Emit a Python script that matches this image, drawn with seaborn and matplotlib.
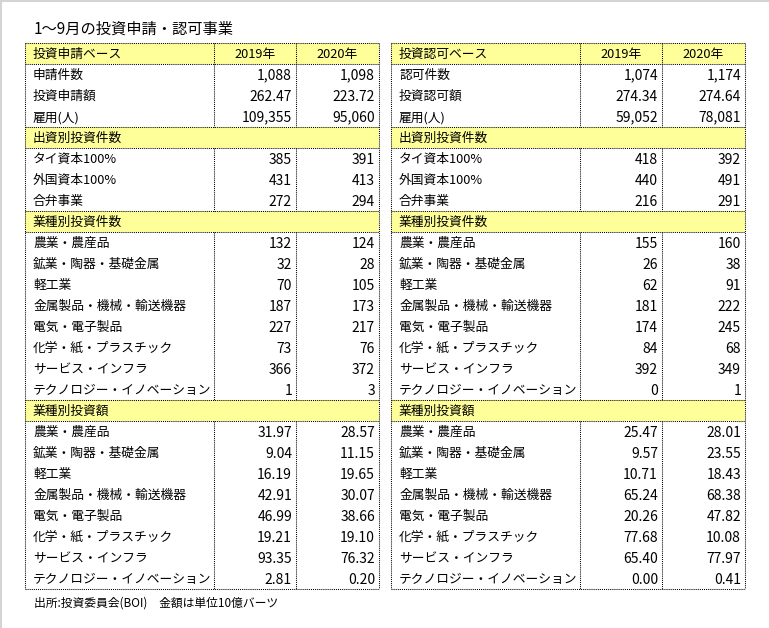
import numpy as np
import seaborn as sns
import matplotlib
matplotlib.use("Agg")
import matplotlib.pyplot as plt
from matplotlib.colors import ListedColormap

sns.set_theme(style="white")
plt.rcParams['font.family'] = ['Noto Sans CJK JP', 'DejaVu Sans']

title = '1～9月の投資申請・認可事業'
source = '出所:投資委員会(BOI)　金額は単位10億バーツ'
years = ['2019年', '2020年']

app_head = '投資申請ベース'
apr_head = '投資認可ベース'
sections = ['出資別投資件数', '業種別投資件数', '業種別投資額']

app_base_items = ['申請件数', '投資申請額', '雇用(人)']
apr_base_items = ['認可件数', '投資認可額', '雇用(人)']
base_formats = ['{:,.0f}', '{:.2f}', '{:,.0f}']
capital_items = ['タイ資本100%', '外国資本100%', '合弁事業']
sector_items = ['農業・農産品', '鉱業・陶器・基礎金属', '軽工業', '金属製品・機械・輸送機器',
                '電気・電子製品', '化学・紙・プラスチック', 'サービス・インフラ',
                'テクノロジー・イノベーション']

# 投資申請
app_base_2019 = [1088, 262.47, 109355]
app_base_2020 = [1098, 223.72, 95060]
app_capital_2019 = [385, 431, 272]
app_capital_2020 = [391, 413, 294]
app_count_2019 = [132, 32, 70, 187, 227, 73, 366, 1]
app_count_2020 = [124, 28, 105, 173, 217, 76, 372, 3]
app_value_2019 = [31.97, 9.04, 16.19, 42.91, 46.99, 19.21, 93.35, 2.81]
app_value_2020 = [28.57, 11.15, 19.65, 30.07, 38.66, 19.10, 76.32, 0.20]

# 投資認可
apr_base_2019 = [1074, 274.34, 59052]
apr_base_2020 = [1174, 274.64, 78081]
apr_capital_2019 = [418, 440, 216]
apr_capital_2020 = [392, 491, 291]
apr_count_2019 = [155, 26, 62, 181, 174, 84, 392, 0]
apr_count_2020 = [160, 38, 91, 222, 245, 68, 349, 1]
apr_value_2019 = [25.47, 9.57, 10.71, 65.24, 20.26, 77.68, 65.40, 0.00]
apr_value_2020 = [28.01, 23.55, 18.43, 68.38, 47.82, 10.08, 77.97, 0.41]


def build_rows(head, base_items, base19, base20, cap19, cap20, cnt19, cnt20, val19, val20):
    rows = [('head', head, years[0], years[1])]
    for lab, f, a, b in zip(base_items, base_formats, base19, base20):
        rows.append(('row', lab, f.format(a), f.format(b)))
    rows.append(('sec', sections[0], '', ''))
    for lab, a, b in zip(capital_items, cap19, cap20):
        rows.append(('row', lab, f'{a:,}', f'{b:,}'))
    rows.append(('sec', sections[1], '', ''))
    for lab, a, b in zip(sector_items, cnt19, cnt20):
        rows.append(('row', lab, f'{a:,}', f'{b:,}'))
    rows.append(('sec', sections[2], '', ''))
    for lab, a, b in zip(sector_items, val19, val20):
        rows.append(('row', lab, f'{a:.2f}', f'{b:.2f}'))
    return rows


W, H = 769, 628
fig = plt.figure(figsize=(W / 100, H / 100), dpi=100)
fig.patch.set_facecolor('white')

# light grey frame on the left and top edges
fig.add_artist(plt.Line2D([0.5 / W, 0.5 / W], [0, 1], color='#d4d4d4', lw=1.5))
fig.add_artist(plt.Line2D([0, 1], [1 - 0.5 / H, 1 - 0.5 / H], color='#d4d4d4', lw=1.5))

tables = [
    (25, build_rows(app_head, app_base_items, app_base_2019, app_base_2020,
                    app_capital_2019, app_capital_2020, app_count_2019, app_count_2020,
                    app_value_2019, app_value_2020)),
    (391, build_rows(apr_head, apr_base_items, apr_base_2019, apr_base_2020,
                     apr_capital_2019, apr_capital_2020, apr_count_2019, apr_count_2020,
                     apr_value_2019, apr_value_2020)),
]

tw, top, bottom = 354, 43, 589
c1, c2 = 189 / tw, 271 / tw
dot = dict(color='black', lw=0.75, linestyle=(0, (1, 1)), clip_on=False)
fs_lab, fs_num = 9.2, 10

for x0, rows in tables:
    ax = fig.add_axes([x0 / W, (H - bottom) / H, tw / W, (bottom - top) / H])
    n = len(rows)
    shade = np.array([[1 if r[0] in ('head', 'sec') else 0] for r in rows])
    sns.heatmap(shade, ax=ax, cmap=ListedColormap(['white', '#FFFF99']), vmin=0, vmax=1,
                cbar=False, xticklabels=False, yticklabels=False)
    ax.set_xlim(0, 1)
    ax.set_ylim(n, 0)
    for s in ax.spines.values():
        s.set_visible(False)

    # horizontal dotted rules around the shaded rows
    hy = {0, n}
    for i, r in enumerate(rows):
        if r[0] in ('head', 'sec'):
            hy.update([i, i + 1])
    ax.hlines(sorted(hy), 0, 1, **dot)
    ax.vlines([0, 1], 0, n, **dot)
    # column dividers, broken at the section bands
    start = 0
    for i, r in enumerate(rows + [('sec', '', '', '')]):
        if r[0] == 'sec':
            if i > start:
                ax.vlines([c1, c2], start, i, **dot)
            start = i + 1

    for i, (kind, lab, a, b) in enumerate(rows):
        y = i + 0.55
        ax.text(8 / tw, y, lab, ha='left', va='center', fontsize=fs_lab, color='black')
        if kind == 'head':
            ax.text((c1 + c2) / 2, y, a, ha='center', va='center', fontsize=fs_lab, color='black')
            ax.text((c2 + 1) / 2, y, b, ha='center', va='center', fontsize=fs_lab, color='black')
        elif kind == 'row':
            ax.text(c2 - 4 / tw, y, a, ha='right', va='center', fontsize=fs_num, color='black')
            ax.text(1 - 4 / tw, y, b, ha='right', va='center', fontsize=fs_num, color='black')

fig.text(34 / W, 1 - 29 / H, title, ha='left', va='center', fontsize=11, color='black')
fig.text(34 / W, 1 - 603 / H, source, ha='left', va='center', fontsize=8.5, color='black')

fig.savefig('out.png', dpi=100, facecolor='white')
